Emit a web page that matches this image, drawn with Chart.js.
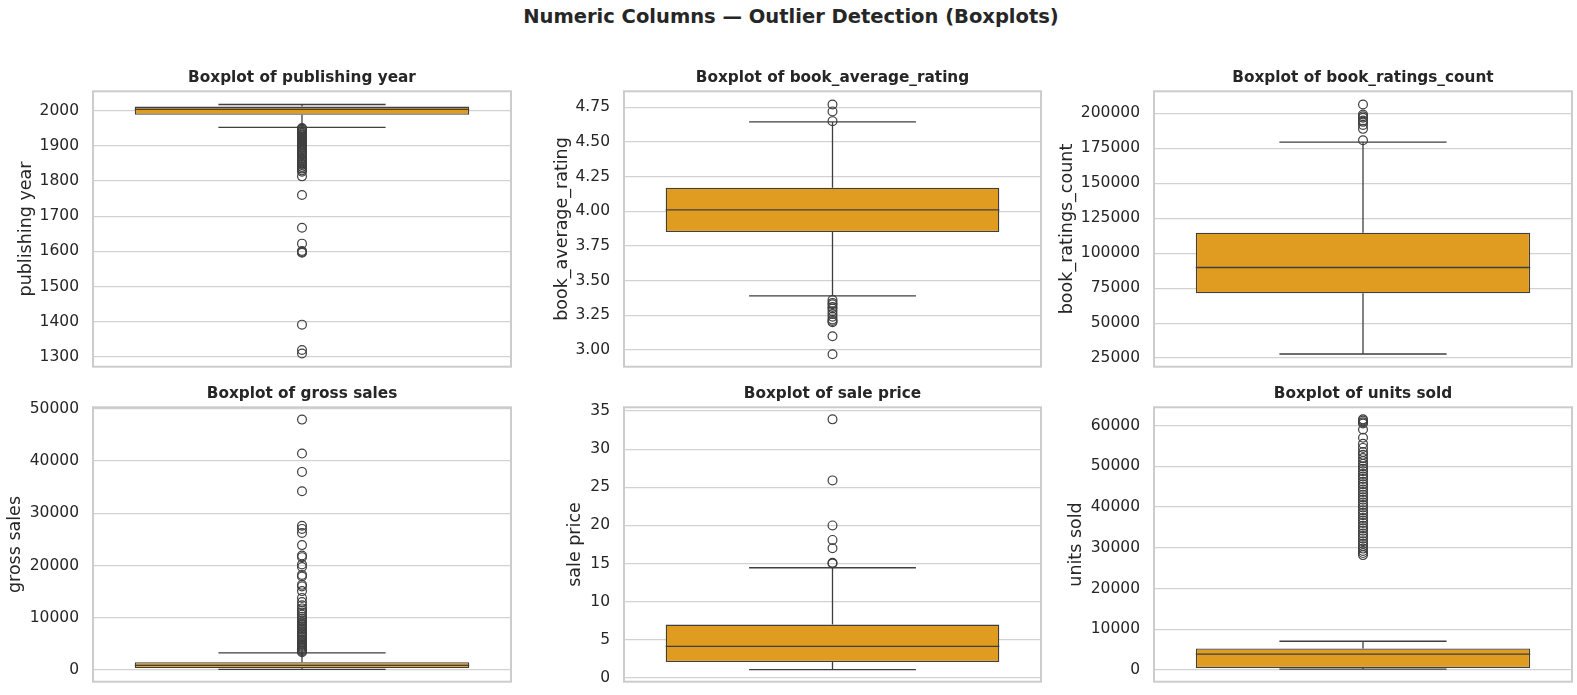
<!DOCTYPE html>
<html>
<head>
<meta charset="utf-8">
<script src="https://cdn.jsdelivr.net/npm/chart.js@4"></script>
<style>
  body { margin: 0; background: #ffffff; width: 1577px; height: 695px; position: relative; overflow: hidden; }
  #suptitle {
    position: absolute; left: 0; top: 5px; width: 1582px; text-align: center;
    font-family: "DejaVu Sans", sans-serif; font-weight: bold; font-size: 19.5px; line-height: 23px; color: #262626;
  }
  canvas { position: absolute; }
</style>
</head>
<body>
<div id="suptitle">Numeric Columns — Outlier Detection (Boxplots)</div>
<canvas id="box-0"></canvas>
<canvas id="box-1"></canvas>
<canvas id="box-2"></canvas>
<canvas id="box-3"></canvas>
<canvas id="box-4"></canvas>
<canvas id="box-5"></canvas>
<script>
// ---------------------------- Data ----------------------------------------------------------- //
const columns = [ "publishing year", "book_average_rating", "book_ratings_count",
    "gross sales", "sale price", "units sold" ];

const q1_values = [ 1988, 3.85, 71300, 380, 2.1, 490 ];
const median_values = [ 2003, 4.01, 89800, 900, 4.15, 3900 ];
const q3_values = [ 2011, 4.17, 114700, 1520, 7.0, 5300 ];
const whisker_low = [ 1952, 3.39, 27900, 150, 1.1, 240 ];
const whisker_high = [ 2017, 4.645, 179500, 3290, 14.45, 7070 ];

const outliers_year = [ 1950, 1948, 1945, 1942, 1940, 1937, 1935, 1932, 1930, 1927, 1925, 1922,
    1920, 1917, 1915, 1912, 1910, 1906, 1903, 1900, 1897, 1894, 1890, 1887, 1884, 1880, 1876,
    1872, 1868, 1862, 1858, 1855, 1852, 1848, 1845, 1840, 1835, 1830, 1826, 1813, 1760, 1667,
    1622, 1601, 1598, 1596, 1392, 1320, 1310 ];
const outliers_rating = [ 4.77, 4.72, 4.65, 3.36, 3.34, 3.33, 3.31, 3.30, 3.28, 3.26, 3.24,
    3.22, 3.21, 3.20, 3.10, 2.97 ];
const outliers_count = [ 206400, 199300, 198000, 196900, 195000, 194000, 191700, 189000, 180800 ];
const outliers_gross = [ 47900, 41400, 37900, 34200, 27600, 27000, 26200, 23900, 21900, 21600,
    20200, 19700, 18200, 17900, 16300, 16000, 15100, 13800, 13000, 12400, 11800, 11400, 11000,
    10600, 10200, 9800, 9500, 9200, 8900, 8600, 8300, 8000, 7700, 7400, 7100, 6800, 6500, 6200,
    5900, 5600, 5300, 5000, 4800, 4600, 4400, 4200, 4000, 3800, 3600, 3400 ];
const outliers_price = [ 33.9, 25.9, 20.0, 18.1, 17.0, 15.1, 15.0 ];
const outliers_units = [ 61500, 61200, 60800, 60500, 59000, 57000, 55500, 54500, 53500, 52800,
    52000, 51300, 50600, 50000, 49400, 48800, 48100, 47500, 46900, 46200, 45600, 45000, 44300,
    43700, 43000, 42400, 41800, 41100, 40500, 39900, 39200, 38600, 38000, 37300, 36700, 36100,
    35400, 34800, 34200, 33500, 32900, 32300, 31600, 31000, 30400, 29800, 29200, 28700, 28200 ];
const outlier_lists = [ outliers_year, outliers_rating, outliers_count,
    outliers_gross, outliers_price, outliers_units ];

// y tick values of each panel
const ticks_year = [ 1300, 1400, 1500, 1600, 1700, 1800, 1900, 2000 ];
const ticks_rating = [ 3.00, 3.25, 3.50, 3.75, 4.00, 4.25, 4.50, 4.75 ];
const ticks_count = [ 25000, 50000, 75000, 100000, 125000, 150000, 175000, 200000 ];
const ticks_gross = [ 0, 10000, 20000, 30000, 40000, 50000 ];
const ticks_price = [ 0, 5, 10, 15, 20, 25, 30, 35 ];
const ticks_units = [ 0, 10000, 20000, 30000, 40000, 50000, 60000 ];
const tick_lists = [ ticks_year, ticks_rating, ticks_count, ticks_gross, ticks_price, ticks_units ];
const tick_decimals = [ 0, 2, 0, 0, 0, 0 ];

// axis ranges
const y_min = [ 1272.6, 2.88, 18810, -2220, -0.48, -2850 ];
const y_max = [ 2054.5, 4.865, 215860, 50250, 35.48, 64460 ];

// ---------------------------- Layout (canvas placement) ---------------------------------------- //
// left, top, width, height, y-axis width
const panel_layout = [
    [ 16, 68, 497, 322, 77 ],
    [ 552, 68, 491, 322, 72 ],
    [ 1057, 68, 517, 322, 97 ],
    [ 5, 384, 508, 321, 88 ],
    [ 565, 384, 478, 321, 59 ],
    [ 1066, 384, 508, 321, 88 ]
];

const BOX_COLOR = '#df9c20';
const LINE_COLOR = '#3f3f3f';
const TEXT_COLOR = '#262626';
const GRID_COLOR = '#d2d2d2';
const SPINE_COLOR = '#cccccc';

Chart.defaults.font.family = '"DejaVu Sans", sans-serif';
Chart.defaults.color = TEXT_COLOR;

// whiskers, caps and median drawn through the chart's own scales
const whisker_plugin = {
    id: 'whiskers',
    beforeDatasetsDraw( chart, args, opts ) {
        const y = chart.scales.y;
        const bar = chart.getDatasetMeta( 0 ).data[ 0 ];
        const cx = bar.x;
        const half_cap = bar.width / 4;
        const ctx = chart.ctx;
        ctx.save();
        ctx.strokeStyle = LINE_COLOR;
        ctx.lineWidth = 1.3;
        ctx.beginPath();
        ctx.moveTo( cx, y.getPixelForValue( opts.q3 ) );
        ctx.lineTo( cx, y.getPixelForValue( opts.high ) );
        ctx.moveTo( cx, y.getPixelForValue( opts.q1 ) );
        ctx.lineTo( cx, y.getPixelForValue( opts.low ) );
        ctx.moveTo( cx - half_cap, y.getPixelForValue( opts.high ) );
        ctx.lineTo( cx + half_cap, y.getPixelForValue( opts.high ) );
        ctx.moveTo( cx - half_cap, y.getPixelForValue( opts.low ) );
        ctx.lineTo( cx + half_cap, y.getPixelForValue( opts.low ) );
        ctx.stroke();
        ctx.restore();
    },
    afterDatasetsDraw( chart, args, opts ) {
        const y = chart.scales.y;
        const bar = chart.getDatasetMeta( 0 ).data[ 0 ];
        const ctx = chart.ctx;
        const py = y.getPixelForValue( opts.median );
        ctx.save();
        ctx.strokeStyle = LINE_COLOR;
        ctx.lineWidth = 1.3;
        ctx.beginPath();
        ctx.moveTo( bar.x - bar.width / 2, py );
        ctx.lineTo( bar.x + bar.width / 2, py );
        ctx.stroke();
        ctx.restore();
    }
};

// light frame all around the plot area (seaborn whitegrid spines)
const frame_plugin = {
    id: 'frame',
    afterDraw( chart ) {
        const a = chart.chartArea;
        const ctx = chart.ctx;
        ctx.save();
        ctx.strokeStyle = SPINE_COLOR;
        ctx.lineWidth = 2;
        ctx.strokeRect( a.left, a.top, a.right - a.left, a.bottom - a.top );
        ctx.restore();
    }
};

// ---------------------------- Create All Charts ------------------------------------------ //
columns.forEach( ( name, i ) => {
    const [ left, top, width, height, axis_width ] = panel_layout[ i ];
    const canvas = document.getElementById( "box-" + i );
    canvas.width = width;
    canvas.height = height;
    canvas.style.left = left + "px";
    canvas.style.top = top + "px";

    new Chart( canvas,
    {
        type: 'bar',
        data: {
            labels: [ name ],
            datasets: [
            {
                data: [ [ q1_values[ i ], q3_values[ i ] ] ],
                backgroundColor: BOX_COLOR,
                borderColor: LINE_COLOR,
                borderWidth: 1.3,
                borderSkipped: false,
                barPercentage: 0.8,
                categoryPercentage: 1.0
            },
            {
                type: 'line',
                data: outlier_lists[ i ].map( v => ( { x: name, y: v } ) ),
                showLine: false,
                pointStyle: 'circle',
                pointRadius: 4.4,
                pointBorderWidth: 1.2,
                pointBorderColor: LINE_COLOR,
                pointBackgroundColor: 'rgba(0,0,0,0)'
            } ]
        },
        options: {
            responsive: false,
            animation: false,
            layout: { autoPadding: false, padding: { left: 0, top: 0, right: 2, bottom: 2 } },
            scales: {
                x: { display: false },
                y: {
                    min: y_min[ i ],
                    max: y_max[ i ],
                    afterFit: ( scale ) => { scale.width = axis_width; },
                    afterBuildTicks: ( scale ) => {
                        scale.ticks = tick_lists[ i ].map( v => ( { value: v } ) );
                    },
                    border: { display: false },
                    grid: { color: GRID_COLOR, lineWidth: 1.2, drawTicks: false },
                    ticks: {
                        padding: 14,
                        color: TEXT_COLOR,
                        font: { size: 15.5 },
                        callback: v => v.toFixed( tick_decimals[ i ] )
                    },
                    title: {
                        display: true,
                        text: name,
                        color: TEXT_COLOR,
                        padding: 0,
                        font: { size: 17.5 }
                    }
                }
            },
            plugins: {
                legend: { display: false },
                tooltip: { enabled: false },
                title: {
                    display: true,
                    text: "Boxplot of " + name,
                    fullSize: false,
                    color: TEXT_COLOR,
                    padding: { top: 0, bottom: 4 },
                    font: { size: 15.3, weight: 'bold' }
                },
                whiskers: {
                    q1: q1_values[ i ],
                    q3: q3_values[ i ],
                    median: median_values[ i ],
                    low: whisker_low[ i ],
                    high: whisker_high[ i ]
                }
            }
        },
        plugins: [ whisker_plugin, frame_plugin ]
    } );
} );
</script>
</body>
</html>
